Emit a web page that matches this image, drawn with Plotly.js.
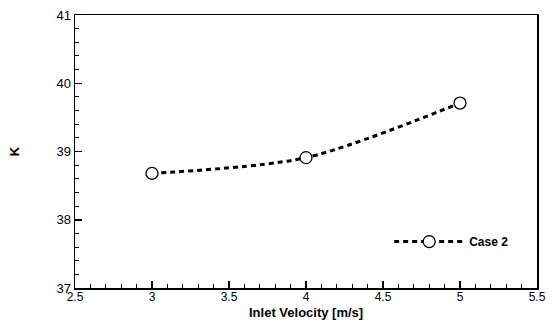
<!DOCTYPE html>
<html>
<head>
<meta charset="utf-8">
<script src="https://cdn.plot.ly/plotly-3.0.1.min.js"></script>
<style>html,body{margin:0;padding:0;background:#fff;}#chart{width:552px;height:320px;}</style>
</head>
<body>
<div id="chart"></div>
<script>
const inletVelocity = [3, 4, 5];
const kValues = [38.68, 38.91, 39.71];
const seriesName = "Case 2";
const xTitle = "Inlet Velocity [m/s]";
const yTitle = "K";

const trace = {
  x: inletVelocity,
  y: kValues,
  name: seriesName,
  type: 'scatter',
  mode: 'lines+markers',
  line: {color: '#000', width: 3, dash: '5px,4px', shape: 'spline', smoothing: 0.8},
  marker: {symbol: 'circle', size: 12, color: '#fff', line: {width: 1.3, color: '#000'}}
};

const axisCommon = {
  showline: true, linecolor: '#000', linewidth: 1.5, mirror: true,
  showgrid: false, zeroline: false,
  ticks: 'inside', ticklen: 7, tickwidth: 1.5, tickcolor: '#000',
  tickfont: {family: 'Liberation Sans, Arial, sans-serif', size: 13, color: '#000'}
};

const layout = {
  width: 552, height: 320,
  margin: {l: 74.5, r: 15, t: 15, b: 32},
  paper_bgcolor: '#fff', plot_bgcolor: '#fff',
  font: {family: 'Liberation Sans, Arial, sans-serif', color: '#000'},
  xaxis: Object.assign({}, axisCommon, {
    range: [2.5, 5.5], dtick: 0.5, tick0: 2.5,
    ticklabelstandoff: -3,
    tickfont: {family: 'Liberation Sans, Arial, sans-serif', size: 12, color: '#000'},
    minor: {ticks: 'inside', ticklen: 4, tickwidth: 1, tickcolor: '#000', dtick: 0.1}
  }),
  yaxis: Object.assign({}, axisCommon, {
    range: [37, 41], dtick: 1, tick0: 37,
    minor: {ticks: 'inside', ticklen: 4, tickwidth: 1, tickcolor: '#000', dtick: 0.2},
    title: {text: '<b>' + yTitle + '</b>', font: {size: 13, color: '#000'}, standoff: 34}
  }),
  annotations: [{
    text: '<b>' + xTitle + '</b>', xref: 'paper', yref: 'paper', x: 0.5, y: 0,
    xanchor: 'center', yanchor: 'middle', yshift: -24.5, showarrow: false, borderpad: 0,
    font: {size: 13, color: '#000', family: 'Liberation Sans, Arial, sans-serif'}
  }],
  showlegend: true,
  legend: {
    x: 0.68, y: 0.17, xanchor: 'left', yanchor: 'middle',
    bgcolor: 'rgba(0,0,0,0)', itemwidth: 70,
    font: {size: 12, color: '#000', family: 'Liberation Sans, Arial, sans-serif', weight: 'bold'}
  }
};

Plotly.newPlot('chart', [trace], layout, {staticPlot: true});
</script>
</body>
</html>
